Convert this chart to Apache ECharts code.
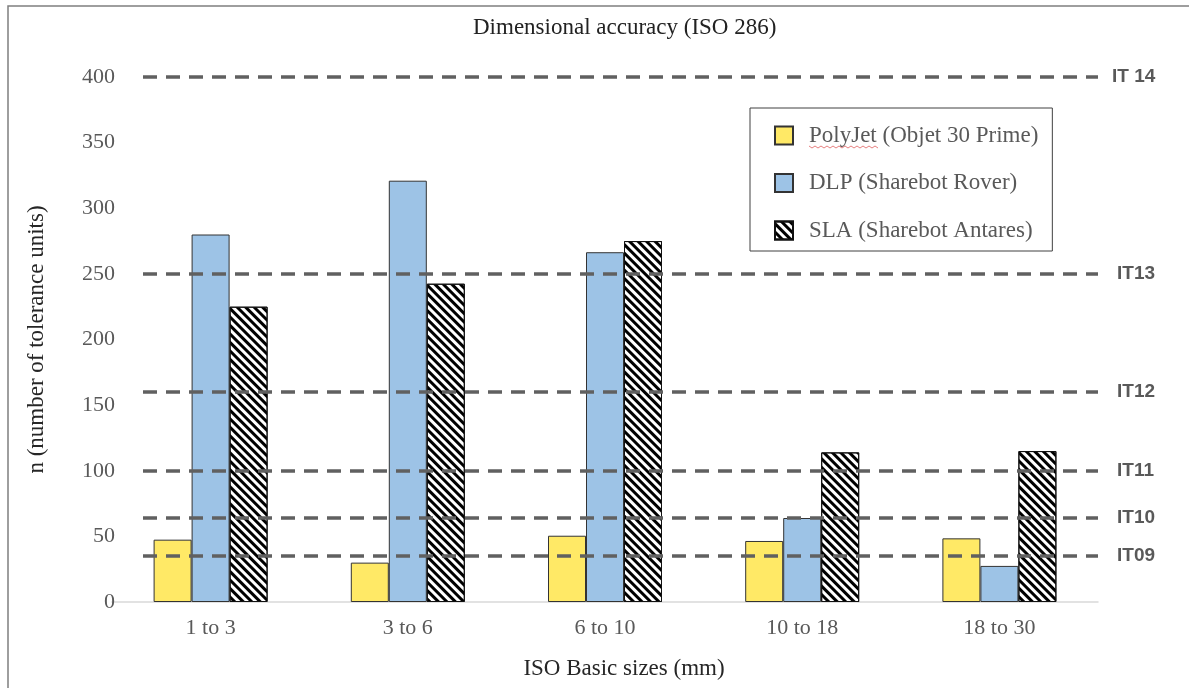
<!DOCTYPE html>
<html>
<head>
<meta charset="utf-8">
<script src="https://cdn.jsdelivr.net/npm/echarts@6/dist/echarts.min.js"></script>
<style>
html,body{margin:0;padding:0;background:#fff;}
#chart{width:1189px;height:688px;}
</style>
</head>
<body>
<div id="chart"></div>
<script>
const categories = ['1 to 3', '3 to 6', '6 to 10', '10 to 18', '18 to 30'];
const polyjet = [47.5, 30, 50.5, 46.5, 48.5];
const dlp = [280, 321, 266.5, 64, 27.5];
const sla = [225, 242.5, 275, 114, 115];
const seriesNames = ['PolyJet (Objet 30 Prime)', 'DLP (Sharebot Rover)', 'SLA (Sharebot Antares)'];
const itLevels = [400, 250, 160, 100, 64, 35];
const itNames = ['IT 14', 'IT13', 'IT12', 'IT11', 'IT10', 'IT09'];
const yTicks = [0, 50, 100, 150, 200, 250, 300, 350, 400];

const serif = 'Liberation Serif';
const chart = echarts.init(document.getElementById('chart'), null, {renderer: 'canvas'});

const markData = itLevels.map((v, i) => ({
  yAxis: v, name: itNames[i], x: 143,
  label: {distance: i === 0 ? 14 : 19}
}));

// decorative spell-check squiggle under "PolyJet" in the legend
const squiggle = [];
for (let k = 0; k <= 23; k++) squiggle.push([809 + k * 3, 147 + (k % 2 === 0 ? -1 : 1)]);

chart.setOption({
  animation: false,
  backgroundColor: '#fff',
  title: {
    text: 'Dimensional accuracy (ISO 286)',
    left: 468,
    top: 11,
    textStyle: {fontFamily: serif, fontSize: 23, fontWeight: 'normal', color: '#222'}
  },
  legend: {
    orient: 'vertical',
    left: 750,
    top: 108,
    backgroundColor: '#fff',
    borderColor: '#404040',
    borderWidth: 1,
    padding: [16, 14, 9, 24],
    itemGap: 24.5,
    itemWidth: 18,
    itemHeight: 18,
    icon: 'rect',
    data: seriesNames,
    textStyle: {fontFamily: serif, fontSize: 23, color: '#595959', padding: [0, 0, 0, 11]}
  },
  grid: {left: 112, right: 91, top: 77, bottom: 86, containLabel: false},
  xAxis: {
    type: 'category',
    data: categories,
    axisLine: {lineStyle: {color: '#d9d9d9', width: 1.5}},
    axisTick: {show: false},
    axisLabel: {fontFamily: serif, fontSize: 22, color: '#595959', margin: 15},
    name: 'ISO Basic sizes (mm)',
    nameLocation: 'middle',
    nameGap: 55,
    nameTextStyle: {fontFamily: serif, fontSize: 23, color: '#262626', padding: [0, 0, 0, 38]}
  },
  yAxis: {
    type: 'value',
    min: yTicks[0],
    max: yTicks[yTicks.length - 1],
    interval: 50,
    axisLine: {show: false},
    axisTick: {show: false},
    splitLine: {show: false},
    axisLabel: {fontFamily: serif, fontSize: 22, color: '#595959', margin: -3},
    name: 'n (number of tolerance units)',
    nameLocation: 'middle',
    nameRotate: 90,
    nameGap: 64,
    nameTextStyle: {fontFamily: serif, fontSize: 23, color: '#262626'}
  },
  series: [
    {
      name: seriesNames[0], type: 'bar', data: polyjet,
      barWidth: 38, barGap: '0%',
      itemStyle: {color: '#FFE966', borderColor: '#333', borderWidth: 1}
    },
    {
      name: seriesNames[1], type: 'bar', data: dlp,
      barWidth: 38, barGap: '0%',
      itemStyle: {color: '#9DC3E6', borderColor: '#333', borderWidth: 1}
    },
    {
      name: seriesNames[2], type: 'bar', data: sla,
      barWidth: 38, barGap: '0%',
      itemStyle: {
        color: '#ffffff', borderColor: '#111', borderWidth: 1,
        decal: {
          symbol: 'rect', symbolSize: 1,
          dashArrayX: [1, 0], dashArrayY: [3, 3],
          rotation: Math.PI / 4, color: '#000'
        }
      },
      markLine: {
        silent: true,
        symbol: ['none', 'none'],
        z: 10,
        lineStyle: {color: '#606060', width: 3.5, type: [14, 9]},
        label: {
          show: true, position: 'end', distance: 19, formatter: '{b}',
          fontFamily: 'Liberation Sans', fontWeight: 'bold', fontSize: 19, color: '#595959'
        },
        data: markData
      }
    }
  ],
  graphic: [{
    type: 'polyline',
    silent: true,
    shape: {points: [[8, 688], [8, 6], [1189, 6]]},
    style: {stroke: '#7f7f7f', lineWidth: 1.5, fill: null}
  }, {
    type: 'polyline',
    silent: true,
    z: 100,
    shape: {points: squiggle},
    style: {stroke: '#e06060', lineWidth: 0.8, fill: null}
  }]
});
</script>
</body>
</html>
